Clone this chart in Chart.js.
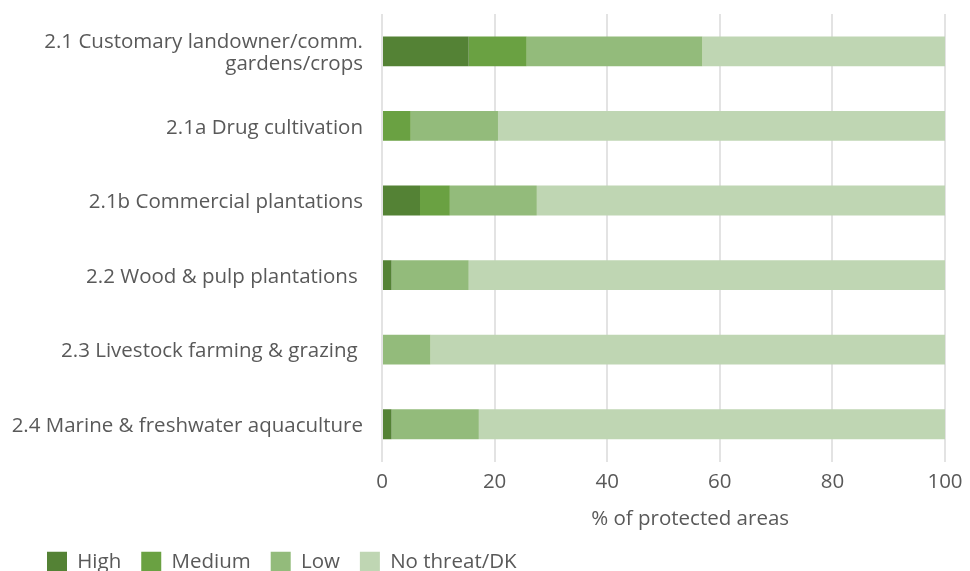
<!DOCTYPE html>
<html>
<head>
<meta charset="utf-8">
<script src="https://cdn.jsdelivr.net/npm/chart.js@4.4.1/dist/chart.umd.min.js"></script>
<style>
  html, body { margin: 0; padding: 0; background: #fff; overflow: hidden; }
  #wrap { position: relative; width: 970px; height: 582px; }
</style>
</head>
<body>
<div id="wrap"><canvas id="threatChart"></canvas></div>
<script>
// Categories (first one wraps onto two lines, trailing spaces as in the source)
const categories = [
  ['2.1 Customary landowner/comm.', 'gardens/crops'],
  '2.1a Drug cultivation',
  '2.1b Commercial plantations',
  '2.2 Wood & pulp plantations ',
  '2.3 Livestock farming & grazing ',
  '2.4 Marine & freshwater aquaculture'
];

// % of protected areas per threat level
const high     = [15.4, 0,    6.75, 1.7,  0,    1.7];
const medium   = [10.3, 5.1,  5.3,  0,    0,    0];
const low      = [31.2, 15.5, 15.45, 13.7, 8.6, 15.5];
const noThreat = [43.1, 79.4, 72.5, 84.6, 91.4, 82.8];

const xTicks = [0, 20, 40, 60, 80, 100];

const textColor = '#595959';
const fontFamily = '"Open Sans", "Noto Sans", sans-serif';
const fontSize = 20.5;

// legend sits indented from the left edge, y labels are not
const legendIndent = {
  id: 'legendIndent',
  afterLayout(chart) {
    if (chart.legend) chart.legend.left = 27;
  }
};

const ctx = document.getElementById('threatChart').getContext('2d');

new Chart(ctx, {
  type: 'bar',
  data: {
    labels: categories,
    datasets: [
      { label: 'High', data: high, backgroundColor: '#548235' },
      { label: 'Medium', data: medium, backgroundColor: '#6aa142' },
      { label: 'Low', data: low, backgroundColor: '#93bb7b' },
      { label: 'No threat/DK', data: noThreat, backgroundColor: '#bfd6b3' }
    ]
  },
  plugins: [legendIndent],
  options: {
    indexAxis: 'y',
    responsive: true,
    maintainAspectRatio: false,
    animation: false,
    categoryPercentage: 0.8,
    barPercentage: 0.5,
    borderWidth: 0,
    layout: {
      padding: { top: 14, right: 25, left: 0, bottom: 0 }
    },
    plugins: {
      legend: {
        position: 'bottom',
        align: 'start',
        labels: {
          boxWidth: 20,
          boxHeight: 20,
          padding: 20,
          color: textColor,
          font: { family: fontFamily, size: fontSize }
        }
      },
      tooltip: { enabled: false }
    },
    scales: {
      x: {
        stacked: true,
        min: 0,
        max: 100,
        afterBuildTicks: function(scale) {
          scale.ticks = xTicks.map(v => ({ value: v }));
        },
        afterFit: function(scale) {
          scale.paddingLeft = 0;
          scale.paddingRight = 0;
        },
        grid: {
          color: '#e3e3e3',
          lineWidth: 2,
          drawTicks: false
        },
        border: { display: false },
        ticks: {
          padding: 10,
          color: textColor,
          font: { family: fontFamily, size: fontSize, lineHeight: 1 }
        },
        title: {
          display: true,
          // leading spaces push the title right, as in the source chart
          text: '\u00a0\u00a0\u00a0\u00a0\u00a0\u00a0\u00a0\u00a0\u00a0\u00a0% of protected areas',
          color: textColor,
          font: { family: fontFamily, size: fontSize, lineHeight: 1 },
          padding: { top: 7, bottom: 2 }
        }
      },
      y: {
        stacked: true,
        grid: { display: false, drawTicks: false },
        border: { display: false },
        afterFit: function(scale) {
          scale.width = 382;
          scale.paddingTop = 0;
          scale.paddingBottom = 0;
        },
        ticks: {
          padding: 19,
          labelOffset: 2,
          color: textColor,
          font: { family: fontFamily, size: fontSize, lineHeight: 1.1 }
        }
      }
    }
  }
});
</script>
</body>
</html>
